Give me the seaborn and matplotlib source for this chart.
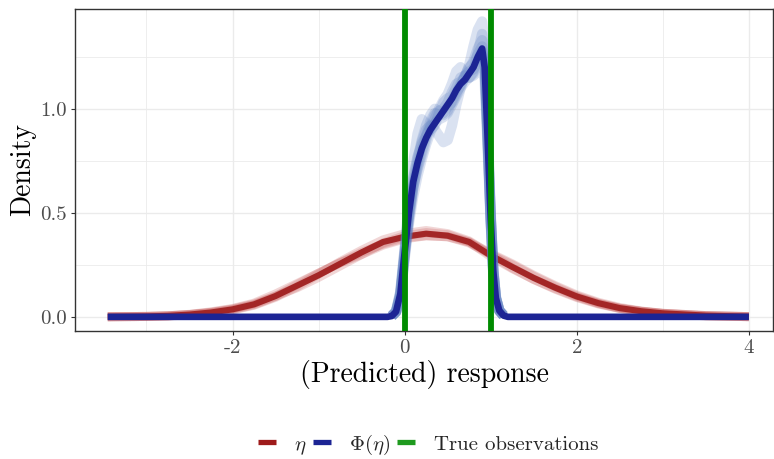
import numpy as np
import pandas as pd
import matplotlib
matplotlib.use("Agg")
import matplotlib.pyplot as plt
from matplotlib.lines import Line2D
from matplotlib.ticker import FixedLocator
import seaborn as sns

# ---------------- data ----------------
eta_x = [-3.45, -3.0, -2.75, -2.5, -2.25, -2.0, -1.75, -1.5, -1.25, -1.0, -0.75, -0.5, -0.25,
         0.0, 0.25, 0.5, 0.75, 1.0, 1.25, 1.5, 1.75, 2.0, 2.25, 2.5, 2.75, 3.0, 3.5, 4.0]
eta_main = [0.0005, 0.002, 0.005, 0.011, 0.021, 0.036, 0.06, 0.10, 0.15, 0.20, 0.255, 0.31, 0.36,
            0.385, 0.40, 0.39, 0.36, 0.295, 0.24, 0.187, 0.14, 0.098, 0.066, 0.042, 0.027, 0.017, 0.006, 0.001]
eta_rep1 = [0.0005, 0.002, 0.005, 0.012, 0.024, 0.040, 0.066, 0.11, 0.16, 0.21, 0.26, 0.31, 0.35,
            0.38, 0.39, 0.385, 0.355, 0.30, 0.25, 0.195, 0.145, 0.10, 0.066, 0.041, 0.026, 0.016, 0.005, 0.001]
eta_rep2 = [0.0005, 0.002, 0.004, 0.010, 0.019, 0.033, 0.056, 0.094, 0.145, 0.205, 0.265, 0.32, 0.37,
            0.40, 0.415, 0.40, 0.365, 0.30, 0.235, 0.18, 0.133, 0.093, 0.062, 0.04, 0.026, 0.016, 0.005, 0.001]
eta_rep3 = [0.0005, 0.002, 0.005, 0.011, 0.02, 0.035, 0.058, 0.098, 0.155, 0.21, 0.26, 0.30, 0.345,
            0.375, 0.39, 0.385, 0.36, 0.305, 0.255, 0.20, 0.15, 0.105, 0.07, 0.045, 0.028, 0.017, 0.006, 0.001]
eta_rep4 = [0.0005, 0.002, 0.005, 0.011, 0.022, 0.038, 0.062, 0.10, 0.14, 0.19, 0.245, 0.30, 0.355,
            0.39, 0.405, 0.395, 0.36, 0.29, 0.232, 0.18, 0.136, 0.096, 0.064, 0.041, 0.027, 0.017, 0.006, 0.001]

phi_x = [-3.45, -0.2, -0.15, -0.1, -0.05, 0.0, 0.05, 0.1, 0.15, 0.2, 0.25, 0.3, 0.35, 0.4, 0.45,
         0.5, 0.55, 0.6, 0.65, 0.7, 0.75, 0.8, 0.85, 0.9, 0.93, 0.96, 1.0, 1.03, 1.06, 1.1, 1.15, 1.2, 4.0]
phi_main = [0, 0, 0.004, 0.025, 0.11, 0.31, 0.50, 0.65, 0.74, 0.81, 0.86, 0.90, 0.93, 0.96, 0.99,
            1.02, 1.05, 1.09, 1.12, 1.14, 1.17, 1.20, 1.25, 1.29, 1.20, 0.90, 0.47, 0.22, 0.09, 0.03, 0.006, 0, 0]
phi_rep1 = [0, 0, 0.004, 0.026, 0.12, 0.33, 0.55, 0.74, 0.88, 0.95, 0.93, 0.90, 0.92, 0.98, 1.03,
            1.05, 1.06, 1.10, 1.15, 1.16, 1.15, 1.18, 1.27, 1.36, 1.26, 0.93, 0.48, 0.22, 0.09, 0.03, 0.006, 0, 0]
phi_rep2 = [0, 0, 0.004, 0.024, 0.10, 0.29, 0.47, 0.62, 0.74, 0.84, 0.90, 0.92, 0.90, 0.87, 0.84,
            0.85, 0.92, 1.02, 1.10, 1.16, 1.20, 1.22, 1.26, 1.30, 1.22, 0.91, 0.47, 0.21, 0.09, 0.03, 0.006, 0, 0]
phi_rep3 = [0, 0, 0.004, 0.025, 0.11, 0.30, 0.48, 0.62, 0.71, 0.78, 0.85, 0.92, 0.97, 0.99, 1.00,
            1.03, 1.08, 1.12, 1.13, 1.15, 1.21, 1.30, 1.38, 1.42, 1.30, 0.97, 0.50, 0.23, 0.10, 0.03, 0.006, 0, 0]
phi_rep4 = [0, 0, 0.004, 0.023, 0.10, 0.28, 0.45, 0.58, 0.68, 0.76, 0.83, 0.89, 0.93, 0.95, 0.96,
            0.98, 1.02, 1.06, 1.10, 1.13, 1.15, 1.16, 1.18, 1.21, 1.14, 0.86, 0.45, 0.21, 0.09, 0.03, 0.006, 0, 0]
phi_rep5 = [0, 0, 0.004, 0.026, 0.12, 0.32, 0.52, 0.67, 0.77, 0.83, 0.87, 0.91, 0.95, 1.00, 1.04,
            1.07, 1.12, 1.18, 1.20, 1.17, 1.15, 1.17, 1.22, 1.27, 1.19, 0.89, 0.47, 0.22, 0.09, 0.03, 0.006, 0, 0]
phi_rep6 = [0, 0, 0.004, 0.025, 0.11, 0.31, 0.51, 0.66, 0.76, 0.85, 0.92, 0.97, 1.00, 0.99, 0.97,
            0.99, 1.04, 1.08, 1.11, 1.15, 1.19, 1.23, 1.29, 1.33, 1.24, 0.92, 0.48, 0.22, 0.09, 0.03, 0.006, 0, 0]
phi_rep7 = [0, 0, 0.004, 0.024, 0.10, 0.30, 0.49, 0.63, 0.72, 0.80, 0.87, 0.94, 0.98, 0.97, 0.98,
            1.01, 1.03, 1.07, 1.12, 1.16, 1.18, 1.19, 1.23, 1.28, 1.21, 0.90, 0.47, 0.22, 0.09, 0.03, 0.006, 0, 0]

true_obs = [0, 1]

x_ticks = [-2, 0, 2, 4]
x_tick_labels = ["-2", "0", "2", "4"]
y_ticks = [0.0, 0.5, 1.0]
y_tick_labels = ["0.0", "0.5", "1.0"]
legend_labels = [r"$\eta$", r"$\Phi(\eta)$", "True observations"]

# ---------------- style ----------------
sns.set_theme(style="white")
plt.rcParams["font.family"] = ["cmr10", "DejaVu Serif"]
plt.rcParams["mathtext.fontset"] = "cm"
plt.rcParams["axes.unicode_minus"] = False
plt.rcParams["axes.formatter.use_mathtext"] = True

RED = "#9e1b1b"
RED_LIGHT = "#c04848"
BLUE = "#1c2494"
BLUE_LIGHT = "#5a7cc0"
GREEN = "#008b00"

fig = plt.figure(figsize=(7.74, 4.59), dpi=100)
ax = fig.add_axes([75 / 774, 1 - 331 / 459, (773 - 75) / 774, (331 - 9) / 459])

# red (eta) curves
for rep in [eta_rep1, eta_rep2, eta_rep3, eta_rep4]:
    sns.lineplot(x=eta_x, y=rep, ax=ax, color=RED_LIGHT, alpha=0.22, lw=6.5,
                 estimator=None, sort=False, solid_capstyle="butt")
sns.lineplot(x=eta_x, y=eta_main, ax=ax, color=RED, alpha=0.9, lw=4.4,
             estimator=None, sort=False, solid_capstyle="butt")

# blue (Phi(eta)) curves: replicates only over the non-flat part
for rep in [phi_rep1, phi_rep2, phi_rep3, phi_rep4, phi_rep5, phi_rep6, phi_rep7]:
    sns.lineplot(x=phi_x[2:-2], y=rep[2:-2], ax=ax, color=BLUE_LIGHT, alpha=0.22, lw=7.5,
                 estimator=None, sort=False, solid_capstyle="butt")
sns.lineplot(x=phi_x, y=phi_main, ax=ax, color=BLUE, alpha=1.0, lw=4.8,
             estimator=None, sort=False, solid_capstyle="butt")

# true observations
for v in true_obs:
    ax.axvline(v, color=GREEN, lw=4.2, zorder=5)

ax.set_xlim(-3.83, 4.28)
ax.set_ylim(-0.068, 1.48)

ax.xaxis.set_major_locator(FixedLocator(x_ticks))
ax.set_xticklabels(x_tick_labels)
ax.yaxis.set_major_locator(FixedLocator(y_ticks))
ax.set_yticklabels(y_tick_labels)
ax.xaxis.set_minor_locator(FixedLocator([-3, -1, 1, 3]))
ax.yaxis.set_minor_locator(FixedLocator([0.25, 0.75, 1.25]))

ax.grid(which="major", color="#ebebeb", lw=1.0)
ax.grid(which="minor", color="#ebebeb", lw=0.6)
ax.set_axisbelow(True)

for s in ax.spines.values():
    s.set_color("#333333")
    s.set_linewidth(1.0)

ax.tick_params(axis="both", which="major", direction="out", length=3, width=0.8,
               color="#333333", labelcolor="#4d4d4d", labelsize=15, pad=3,
               bottom=True, left=True)
ax.tick_params(axis="both", which="minor", length=0)

ax.set_xlabel("(Predicted) response", fontsize=20, color="black", labelpad=2)
ax.set_ylabel("Density", fontsize=20, color="black", labelpad=3)

handles = [Line2D([0], [0], color=RED, lw=3.8, solid_capstyle="butt"),
           Line2D([0], [0], color=BLUE, lw=3.8, solid_capstyle="butt"),
           Line2D([0], [0], color="#1f9a1f", lw=3.8, solid_capstyle="butt")]
fig.legend(handles, legend_labels, loc="center", bbox_to_anchor=(0.553, 0.031),
           ncol=3, frameon=False, fontsize=15, handlelength=0.85, handletextpad=0.9,
           columnspacing=0.3)

fig.savefig("out.png", dpi=100)
